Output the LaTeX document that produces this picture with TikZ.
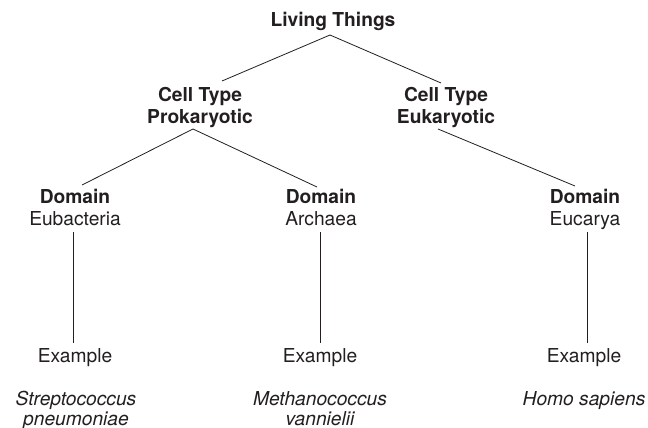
\documentclass[tikz,border=0pt]{standalone}
\usepackage{fontspec}
\setmainfont{TeX Gyre Heros}
\usetikzlibrary{calc}
\definecolor{ink}{HTML}{231F20}
\begin{document}
\begin{tikzpicture}[x=1pt,y=1pt,
  lbl/.style={inner sep=0pt, anchor=base, text=ink, font=\fontsize{19.2}{22}\selectfont},
  hd/.style={lbl, font=\fontsize{19.2}{22}\selectfont\bfseries},
  sp/.style={lbl, font=\fontsize{19.2}{22}\selectfont\itshape},
  link/.style={draw=ink, line width=0.8pt}]
\useasboundingbox (0,0) rectangle (648,-428);
\fill[white] (0,0) rectangle (648,-428);
% nodes
\node[hd] (root) at (333,-27) {Living Things};
\node[hd] (proA) at (200,-102) {Cell Type};
\node[hd] (proB) at (200,-123) {Prokaryotic};
\node[hd] (eukA) at (446,-102) {Cell Type};
\node[hd] (eukB) at (446,-123) {Eukaryotic};
\node[hd] (eubA) at (75,-203) {Domain};
\node[lbl] (eubB) at (75,-225) {Eubacteria};
\node[hd] (arcA) at (321,-203) {Domain};
\node[lbl] (arcB) at (321,-225) {Archaea};
\node[hd] (eucA) at (585,-203) {Domain};
\node[lbl] (eucB) at (585,-225) {Eucarya};
\node[lbl] (exA) at (75,-362) {Example};
\node[lbl] (exB) at (320,-362) {Example};
\node[lbl] (exC) at (584,-362) {Example};
\node[sp] (spA1) at (76,-405) {Streptococcus};
\node[sp] (spA2) at (76,-425) {pneumoniae};
\node[sp] (spB1) at (320,-405) {Methanococcus};
\node[sp] (spB2) at (320,-425) {vannielii};
\node[sp] (spC) at (584,-405) {Homo sapiens};
% connectors
\draw[link] ($(root.base)+(-3,-8)$) -- ($(proA.base)+(22,21)$);
\draw[link] ($(root.base)+(-3,-8)$) -- ($(eukA.base)+(-5,19)$);
\draw[link] ($(proB.base)+(-7,-6)$) -- ($(eubA.base)+(7,18)$);
\draw[link] ($(proB.base)+(-7,-6)$) -- ($(arcA.base)+(-4,16)$);
\draw[link] ($(eukB.base)+(-8,-6)$) -- ($(eucA.base)+(-10,17)$);
\draw[link] ($(eubB.base)+(-2,-7)$) -- ($(exA.base)+(-2,19)$);
\draw[link] ($(arcB.base)+(-1,-7)$) -- ($(exB.base)+(0,19)$);
\draw[link] ($(eucB.base)+(2,-7)$) -- ($(exC.base)+(3,19)$);
\end{tikzpicture}
\end{document}
